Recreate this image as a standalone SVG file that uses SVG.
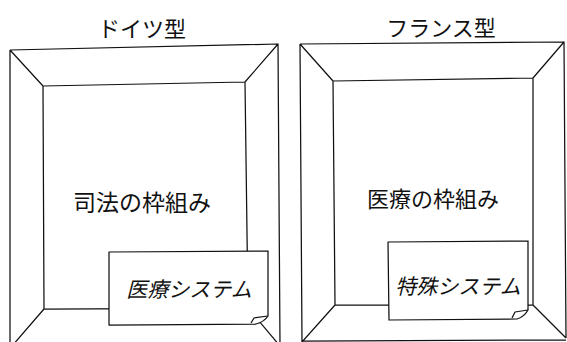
<svg xmlns="http://www.w3.org/2000/svg" width="567" height="342" viewBox="0 0 567 342">
<style>
.ln{fill:none;stroke:#111;stroke-width:1.25;stroke-linejoin:round}
.note{fill:#fff;stroke:#111;stroke-width:1.25;stroke-linejoin:round}
.t{font-family:"Noto Sans CJK JP","Noto Sans",sans-serif;fill:#111;text-anchor:middle}
.it{font-style:italic}
</style>
<rect width="567" height="342" fill="#fff"/>
<g id="german">
<text class="t" x="142" y="37" font-size="22">ドイツ型</text>
<path class="ln" d="M10,50 L278,44 L280,346 M10,50 L10,346 M43,86 L245,82 L248,308 L44,309 Z M10,50 L43,86 M278,44 L245,82 M44,309 L12,346 M248,308 L280,346"/>
<text class="t" x="142" y="211" font-size="23">司法の枠組み</text>
</g>
<g id="german-note">
<path class="note" d="M109,252 L268,251 L268,316 Q264,322 256,324 L109,325 Z"/>
<path class="ln" d="M251,323 L254,318 L268,316"/>
<text class="t it" x="189" y="297" font-size="21">医療システム</text>
</g>
<g id="french">
<text class="t" x="441" y="36" font-size="22">フランス型</text>
<path class="ln" d="M300,44 L564,42 L566,338 M300,44 L302,342 M333,81 L533,78 L533,305 L335,305 Z M300,44 L333,81 M564,42 L533,78 M335,305 L302,342 M533,305 L566,338 M302,341 L566,340"/>
<text class="t" x="433" y="207" font-size="22">医療の枠組み</text>
</g>
<g id="french-note">
<path class="note" d="M388,242 L528,241 L528,310 Q524,317 517,319 L389,320 Z"/>
<path class="ln" d="M512,318 L515,312 L528,310"/>
<text class="t it" x="458" y="294" font-size="21">特殊システム</text>
</g>
</svg>
